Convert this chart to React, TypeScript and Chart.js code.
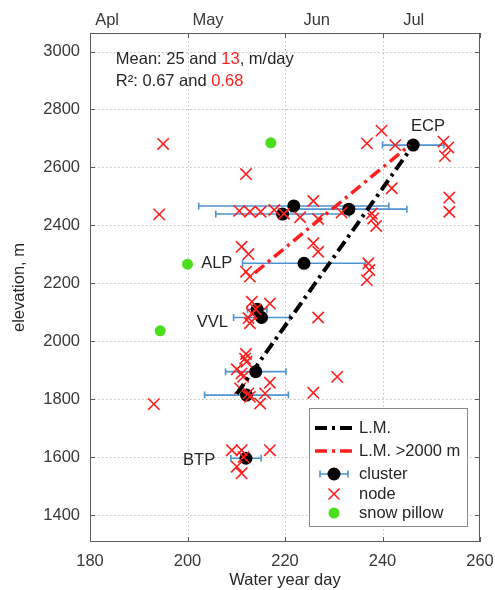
import React, { useEffect, useRef } from 'react';
import { Chart, registerables } from 'chart.js';

Chart.register(...registerables);

// ---------- data ----------
const xTicks = [180, 200, 220, 240, 260];
const yTicks = [1400, 1600, 1800, 2000, 2200, 2400, 2600, 2800, 3000];
const monthLabels = ['Apl', 'May', 'Jun', 'Jul'];
const monthDays = [183.5, 204.2, 226.5, 246.4];

const clusterDay = [246.3, 221.8, 219.5, 233.1, 223.9, 214.3, 215.2, 214.0, 212.1, 212.0];
const clusterElev = [2677, 2467, 2439, 2456, 2269, 2110, 2082, 1895, 1814, 1596];
const clusterErr = [6.3, 19.5, 13.7, 11.9, 12.6, 2.0, 5.75, 6.2, 8.6, 3.1];

const nodeDay = [
  195.0, 212.0, 194.2, 210.6, 212.8, 215.0, 217.8, 225.8, 223.1, 226.8,
  231.6, 237.8, 238.7, 238.1, 225.8, 226.8, 211.1, 212.5, 212.0, 212.8,
  237.1, 237.3, 236.8, 239.8, 236.8, 242.6, 241.9, 252.5, 253.5, 252.8,
  253.7, 253.7, 219.8, 213.2, 216.9, 213.2, 212.8, 212.5, 214.0, 226.8,
  212.0, 212.1, 210.1, 211.1, 211.4, 216.9, 210.8, 212.5, 215.9, 214.9,
  225.8, 230.7, 193.1, 212.8, 211.8, 209.1, 211.1, 216.9, 210.1, 211.1,
  211.5,
];
const nodeElev = [
  2681, 2577, 2438, 2450, 2447, 2447, 2453, 2484, 2428, 2422,
  2444, 2441, 2398, 2424, 2338, 2309, 2326, 2301, 2240, 2223,
  2269, 2246, 2211, 2727, 2683, 2677, 2528, 2689, 2669, 2639,
  2496, 2447, 2440, 2136, 2130, 2096, 2062, 2080, 2110, 2082,
  1956, 1929, 1903, 1889, 1877, 1857, 1837, 1820, 1820, 1785,
  1822, 1877, 1783, 1808, 1940, 1624, 1624, 1624, 1567, 1544,
  1600,
];

const pillowDay = [217.1, 200.0, 194.4];
const pillowElev = [2685, 2266, 2036];

const lmDay = [210.1, 246.3];
const lmElev = [1818, 2677];
const lm2Day = [213.8, 245.6];
const lm2Elev = [2236, 2677];

const siteLabels = ['ECP', 'ALP', 'VVL', 'BTP'];
const siteLabelDay = [245.85, 202.8, 201.9, 199.1];
const siteLabelElev = [2743, 2270, 2066, 1590];

const legendLabels = ['L.M.', 'L.M. >2000 m', 'cluster', 'node', 'snow pillow'];

const meanText = ['Mean: 25 and ', '13', ', m/day'];
const r2Text = ['R²: 0.67 and ', '0.68'];

// ---------- styles ----------
const FONT = '"Liberation Sans", Arial, Helvetica, sans-serif';
const FS = 16.5;
const TEXT = '#262626';
const TICKC = '#383838';
const RED = '#ff1f1f';
const GREEN = '#4ade1c';
const BLUE = '#4f93d0';
const DASH = [12, 5, 3, 5];

const toXY = (xs: number[], ys: number[]) => xs.map((x, i) => ({ x, y: ys[i] }));

function drawX(ctx: CanvasRenderingContext2D, cx: number, cy: number, h: number) {
  ctx.beginPath();
  ctx.moveTo(cx - h, cy - h);
  ctx.lineTo(cx + h, cy + h);
  ctx.moveTo(cx + h, cy - h);
  ctx.lineTo(cx - h, cy + h);
  ctx.stroke();
}

const decor = {
  id: 'decor',
  beforeDatasetsDraw(chart: any) {
    const { ctx, chartArea: a, scales } = chart;
    const sx = scales.x;
    const sy = scales.y;
    ctx.save();
    // dotted grid
    ctx.strokeStyle = '#bdbdbd';
    ctx.lineWidth = 1;
    ctx.setLineDash([1.5, 2.5]);
    for (const v of xTicks) {
      const px = Math.round(sx.getPixelForValue(v)) + 0.5;
      if (px <= a.left + 2 || px >= a.right - 2) continue;
      ctx.beginPath();
      ctx.moveTo(px, a.top);
      ctx.lineTo(px, a.bottom);
      ctx.stroke();
    }
    for (const v of yTicks) {
      const py = Math.round(sy.getPixelForValue(v)) + 0.5;
      if (py <= a.top + 2 || py >= a.bottom - 2) continue;
      ctx.beginPath();
      ctx.moveTo(a.left, py);
      ctx.lineTo(a.right, py);
      ctx.stroke();
    }
    ctx.setLineDash([]);
    // error bars
    ctx.strokeStyle = BLUE;
    ctx.lineWidth = 1.6;
    for (let i = 0; i < clusterDay.length; i++) {
      const x0 = sx.getPixelForValue(clusterDay[i] - clusterErr[i]);
      const x1 = sx.getPixelForValue(clusterDay[i] + clusterErr[i]);
      const py = sy.getPixelForValue(clusterElev[i]);
      ctx.beginPath();
      ctx.moveTo(x0, py);
      ctx.lineTo(x1, py);
      ctx.moveTo(x0, py - 3.5);
      ctx.lineTo(x0, py + 3.5);
      ctx.moveTo(x1, py - 3.5);
      ctx.lineTo(x1, py + 3.5);
      ctx.stroke();
    }
    ctx.restore();
  },
  afterDatasetsDraw(chart: any) {
    const { ctx, chartArea: a, scales } = chart;
    const sx = scales.x;
    const sy = scales.y;
    ctx.save();
    // frame
    ctx.strokeStyle = '#5a5a5a';
    ctx.lineWidth = 1;
    ctx.strokeRect(a.left + 0.5, a.top + 0.5, a.width - 1, a.height - 1);
    // inward tick marks
    const TL = 5;
    ctx.beginPath();
    for (const v of xTicks) {
      const px = Math.round(sx.getPixelForValue(v)) + 0.5;
      ctx.moveTo(px, a.bottom);
      ctx.lineTo(px, a.bottom - TL);
      ctx.moveTo(px, a.top);
      ctx.lineTo(px, a.top + TL);
    }
    for (const v of yTicks) {
      const py = Math.round(sy.getPixelForValue(v)) + 0.5;
      ctx.moveTo(a.left, py);
      ctx.lineTo(a.left + TL, py);
      ctx.moveTo(a.right, py);
      ctx.lineTo(a.right - TL, py);
    }
    ctx.stroke();

    // texts
    ctx.font = `${FS}px ${FONT}`;
    ctx.textBaseline = 'middle';
    ctx.textAlign = 'left';
    const drawParts = (parts: string[], x: number, y: number) => {
      let cx = x;
      parts.forEach((p, i) => {
        ctx.fillStyle = i % 2 === 1 ? RED : TEXT;
        ctx.fillText(p, cx, y);
        cx += ctx.measureText(p).width;
      });
    };
    const tx = sx.getPixelForValue(185.3);
    drawParts(meanText, tx, sy.getPixelForValue(2971));
    drawParts(r2Text, tx, sy.getPixelForValue(2898));

    ctx.fillStyle = TEXT;
    siteLabels.forEach((s, i) => {
      ctx.fillText(s, sx.getPixelForValue(siteLabelDay[i]), sy.getPixelForValue(siteLabelElev[i]));
    });

    // legend
    const L = 309, T = 408, R = 468, B = 527;
    ctx.fillStyle = '#ffffff';
    ctx.fillRect(L, T, R - L, B - T);
    ctx.strokeStyle = '#8a8a8a';
    ctx.lineWidth = 1;
    ctx.strokeRect(L + 0.5, T + 0.5, R - L - 1, B - T - 1);
    const rows = [428, 451, 474, 494, 513];
    const s0 = 315, s1 = 355, sc = 334, textX = 359;
    // L.M.
    ctx.lineCap = 'butt';
    ctx.setLineDash(DASH);
    ctx.strokeStyle = '#000';
    ctx.lineWidth = 4;
    ctx.beginPath();
    ctx.moveTo(s0, rows[0]);
    ctx.lineTo(s1, rows[0]);
    ctx.stroke();
    ctx.strokeStyle = RED;
    ctx.lineWidth = 3.5;
    ctx.beginPath();
    ctx.moveTo(s0, rows[1]);
    ctx.lineTo(s1, rows[1]);
    ctx.stroke();
    ctx.setLineDash([]);
    // cluster
    ctx.strokeStyle = BLUE;
    ctx.lineWidth = 1.6;
    ctx.beginPath();
    ctx.moveTo(320, rows[2]);
    ctx.lineTo(348, rows[2]);
    ctx.moveTo(320, rows[2] - 3.5);
    ctx.lineTo(320, rows[2] + 3.5);
    ctx.moveTo(348, rows[2] - 3.5);
    ctx.lineTo(348, rows[2] + 3.5);
    ctx.stroke();
    ctx.fillStyle = '#000';
    ctx.beginPath();
    ctx.arc(sc, rows[2], 6.5, 0, Math.PI * 2);
    ctx.fill();
    // node
    ctx.strokeStyle = RED;
    ctx.lineWidth = 1.6;
    drawX(ctx, sc, rows[3], 5.5);
    // pillow
    ctx.fillStyle = GREEN;
    ctx.beginPath();
    ctx.arc(sc, rows[4], 5.5, 0, Math.PI * 2);
    ctx.fill();
    ctx.fillStyle = TEXT;
    legendLabels.forEach((s, i) => ctx.fillText(s, textX, rows[i]));
    ctx.restore();
  },
};

export default function App() {
  const ref = useRef<HTMLCanvasElement | null>(null);
  useEffect(() => {
    if (!ref.current) return;
    const tickFont = { family: FONT, size: FS };
    const chart = new Chart(ref.current, {
      type: 'scatter',
      data: {
        datasets: [
          {
            label: 'L.M.',
            data: toXY(lmDay, lmElev),
            showLine: true,
            borderColor: '#000000',
            borderWidth: 4,
            borderDash: DASH,
            pointRadius: 0,
            fill: false,
          } as any,
          {
            label: 'L.M. >2000 m',
            data: toXY(lm2Day, lm2Elev),
            showLine: true,
            borderColor: RED,
            borderWidth: 3.5,
            borderDash: DASH,
            pointRadius: 0,
            fill: false,
          },
          {
            label: 'node',
            data: toXY(nodeDay, nodeElev),
            pointStyle: 'crossRot',
            pointRadius: 8,
            borderColor: RED,
            backgroundColor: RED,
            borderWidth: 1.6,
          },
          {
            label: 'cluster',
            data: toXY(clusterDay, clusterElev),
            pointStyle: 'circle',
            pointRadius: 6.5,
            backgroundColor: '#000000',
            borderColor: '#000000',
            borderWidth: 0,
          },
          {
            label: 'snow pillow',
            data: toXY(pillowDay, pillowElev),
            pointStyle: 'circle',
            pointRadius: 5.5,
            backgroundColor: GREEN,
            borderColor: GREEN,
            borderWidth: 0,
          },
        ],
      },
      options: {
        responsive: false,
        animation: false,
        events: [],
        layout: { padding: { left: 0, right: 15, top: 0, bottom: 0 } },
        plugins: { legend: { display: false }, tooltip: { enabled: false } },
        scales: {
          x: {
            type: 'linear',
            position: 'bottom',
            min: 180,
            max: 260,
            afterBuildTicks: (s: any) => {
              s.ticks = xTicks.map((v) => ({ value: v }));
            },
            afterFit: (s: any) => {
              s.height = 48;
              s.paddingLeft = 0;
              s.paddingRight = 0;
            },
            ticks: {
              font: tickFont,
              color: TICKC,
              padding: 10,
              autoSkip: false,
              maxRotation: 0,
              callback: (v: any) => String(v),
            },
            grid: { display: false, drawTicks: false },
            border: { display: false },
            title: {
              display: true,
              text: 'Water year day',
              font: tickFont,
              color: TEXT,
              padding: { top: -2, bottom: 0 },
            },
          },
          xTop: {
            type: 'linear',
            position: 'top',
            min: 180,
            max: 260,
            afterBuildTicks: (s: any) => {
              s.ticks = monthDays.map((v) => ({ value: v }));
            },
            afterFit: (s: any) => {
              s.height = 33;
              s.paddingLeft = 0;
              s.paddingRight = 0;
            },
            ticks: {
              font: tickFont,
              color: TICKC,
              padding: 3,
              autoSkip: false,
              maxRotation: 0,
              callback: (_v: any, i: number) => monthLabels[i],
            },
            grid: { display: false, drawTicks: false },
            border: { display: false },
          },
          y: {
            type: 'linear',
            position: 'left',
            min: 1307,
            max: 3064,
            afterBuildTicks: (s: any) => {
              s.ticks = yTicks.map((v) => ({ value: v }));
            },
            afterFit: (s: any) => {
              s.width = 90;
              s.paddingTop = 0;
              s.paddingBottom = 0;
            },
            ticks: {
              font: tickFont,
              color: TICKC,
              padding: 10,
              autoSkip: false,
              callback: (v: any) => String(v),
            },
            grid: { display: false, drawTicks: false },
            border: { display: false },
            title: {
              display: true,
              text: 'elevation, m',
              font: tickFont,
              color: TEXT,
              padding: { top: 10, bottom: 0 },
            },
          },
        },
      } as any,
      plugins: [decor],
    });
    return () => chart.destroy();
  }, []);
  return (
    <div style={{ position: 'fixed', left: 0, top: 0, width: 495, height: 590, background: '#fff' }}>
      <canvas ref={ref} width={495} height={590} style={{ display: 'block' }} />
    </div>
  );
}
